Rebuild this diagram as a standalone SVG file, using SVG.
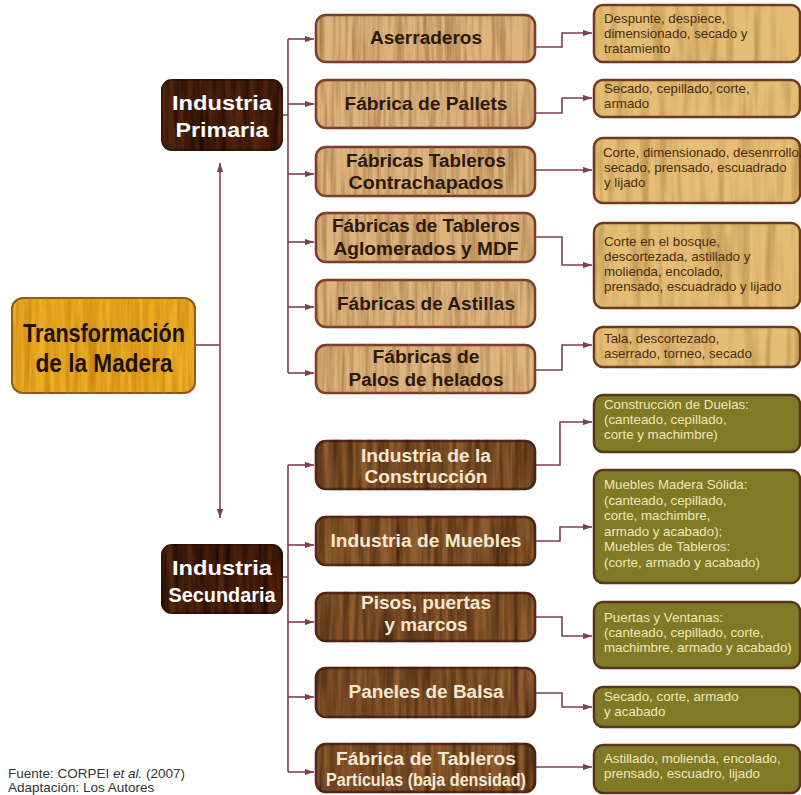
<svg xmlns="http://www.w3.org/2000/svg" width="801" height="795" viewBox="0 0 801 795">
<style>
text{font-family:"Liberation Sans",Arial,Helvetica,sans-serif}
.mid{font-size:17.5px;font-weight:bold;fill:#2a190c;text-anchor:middle}
.mid2{font-size:17.5px;font-weight:bold;fill:#f3e9d2;text-anchor:middle}
.ind{font-size:20.5px;font-weight:bold;fill:#ffffff;text-anchor:middle}
.main{font-size:26px;font-weight:bold;fill:#1e1206;text-anchor:middle}
.d1{font-size:13.3px;fill:#4a2c12}
.d2{font-size:13.3px;fill:#f0e6bc}
.tan{fill:#deb47e;stroke:#7a3a2c;stroke-width:2.5}
.brown{fill:#8e5c2e;stroke:#5a2a1c;stroke-width:2.5}
.dark{fill:#55260f;stroke:#3a1a0a;stroke-width:2}
.gold{fill:#ecb026;stroke:#8a5420;stroke-width:2}
.rtan{fill:#e6bd74;stroke:#6e3a22;stroke-width:2.5}
.olive{fill:#807a26;stroke:#5a341c;stroke-width:2.5}
.c{fill:none;stroke:#7e4050;stroke-width:1.6}
.a{marker-end:url(#ah)}
.src{font-size:13.5px;fill:#333333}
</style>
<defs>
<marker id="ah" viewBox="0 0 10 7" refX="10" refY="3.5" markerWidth="9" markerHeight="6.3" markerUnits="userSpaceOnUse" orient="auto">
<path d="M0,0 L10,3.5 L0,7 z" fill="#7e4050"/>
</marker>
<filter id="wTan" x="-0.05" y="-0.1" width="1.1" height="1.2" color-interpolation-filters="sRGB">
<feTurbulence type="fractalNoise" baseFrequency="0.22 0.01" numOctaves="3" seed="2" result="t"/>
<feColorMatrix in="t" type="luminanceToAlpha" result="l"/>
<feComponentTransfer in="l" result="m"><feFuncA type="linear" slope="1.5" intercept="-0.6"/></feComponentTransfer>
<feFlood flood-color="#8a5a2a"/>
<feComposite operator="in" in2="m" result="c"/>
<feComposite in="c" in2="SourceAlpha" operator="in" result="d"/>
<feMerge><feMergeNode in="SourceGraphic"/><feMergeNode in="d"/></feMerge>
</filter>
<filter id="wBrown" x="-0.05" y="-0.1" width="1.1" height="1.2" color-interpolation-filters="sRGB">
<feTurbulence type="fractalNoise" baseFrequency="0.16 0.01" numOctaves="3" seed="7" result="t"/>
<feColorMatrix in="t" type="luminanceToAlpha" result="l"/>
<feComponentTransfer in="l" result="m"><feFuncA type="linear" slope="2" intercept="-0.7"/></feComponentTransfer>
<feFlood flood-color="#3a1c08"/>
<feComposite operator="in" in2="m" result="c"/>
<feComposite in="c" in2="SourceAlpha" operator="in" result="d"/>
<feMerge><feMergeNode in="SourceGraphic"/><feMergeNode in="d"/></feMerge>
</filter>
<filter id="wDark" x="-0.05" y="-0.1" width="1.1" height="1.2" color-interpolation-filters="sRGB">
<feTurbulence type="fractalNoise" baseFrequency="0.16 0.012" numOctaves="3" seed="4" result="t"/>
<feColorMatrix in="t" type="luminanceToAlpha" result="l"/>
<feComponentTransfer in="l" result="m"><feFuncA type="linear" slope="2" intercept="-0.65"/></feComponentTransfer>
<feFlood flood-color="#160600"/>
<feComposite operator="in" in2="m" result="c"/>
<feComposite in="c" in2="SourceAlpha" operator="in" result="d"/>
<feMerge><feMergeNode in="SourceGraphic"/><feMergeNode in="d"/></feMerge>
</filter>
<filter id="wGold" x="-0.05" y="-0.1" width="1.1" height="1.2" color-interpolation-filters="sRGB">
<feTurbulence type="fractalNoise" baseFrequency="0.18 0.01" numOctaves="3" seed="9" result="t"/>
<feColorMatrix in="t" type="luminanceToAlpha" result="l"/>
<feComponentTransfer in="l" result="m"><feFuncA type="linear" slope="1.5" intercept="-0.55"/></feComponentTransfer>
<feFlood flood-color="#b86a00"/>
<feComposite operator="in" in2="m" result="c"/>
<feComposite in="c" in2="SourceAlpha" operator="in" result="d"/>
<feMerge><feMergeNode in="SourceGraphic"/><feMergeNode in="d"/></feMerge>
</filter>
<filter id="wLite" x="-0.05" y="-0.1" width="1.1" height="1.2" color-interpolation-filters="sRGB">
<feTurbulence type="fractalNoise" baseFrequency="0.12 0.01" numOctaves="2" seed="11" result="t"/>
<feColorMatrix in="t" type="luminanceToAlpha" result="l"/>
<feComponentTransfer in="l" result="m"><feFuncA type="linear" slope="1.0" intercept="-0.45"/></feComponentTransfer>
<feFlood flood-color="#6a4a10"/>
<feComposite operator="in" in2="m" result="c"/>
<feComposite in="c" in2="SourceAlpha" operator="in" result="d"/>
<feMerge><feMergeNode in="SourceGraphic"/><feMergeNode in="d"/></feMerge>
</filter>
</defs>

<g id="connectors">
<path class="c" d="M195 345 H220"/>
<path class="c a" d="M220 345 V163"/>
<path class="c a" d="M220 345 V518"/>
<path class="c" d="M282 115 H288 M288 39 V373"/>
<path class="c a" d="M288 39 H314"/>
<path class="c a" d="M288 104 H314"/>
<path class="c a" d="M288 174 H314"/>
<path class="c a" d="M288 242 H314"/>
<path class="c a" d="M288 307 H314"/>
<path class="c a" d="M288 373 H314"/>
<path class="c" d="M282 577 H288 M288 465 V772"/>
<path class="c a" d="M288 465 H314"/>
<path class="c a" d="M288 545 H314"/>
<path class="c a" d="M288 622 H314"/>
<path class="c a" d="M288 697 H314"/>
<path class="c a" d="M288 772 H314"/>
<path class="c a" d="M536 47 H562 V33 H592"/>
<path class="c a" d="M536 113 H562 V98 H592"/>
<path class="c a" d="M536 170 H592"/>
<path class="c a" d="M536 237 H562 V265 H592"/>
<path class="c a" d="M536 370 H562 V345 H592"/>
<path class="c a" d="M536 465 H560 V422 H592"/>
<path class="c a" d="M536 541 H560 V527 H592"/>
<path class="c a" d="M536 617 H562 V636 H592"/>
<path class="c a" d="M536 693 H562 V707 H592"/>
<path class="c a" d="M536 767 H592"/>
</g>

<g id="n-transformacion">
<rect class="gold" filter="url(#wGold)" x="12" y="298" width="183" height="95" rx="11"/>
<text class="main" x="104" y="342" textLength="162" lengthAdjust="spacingAndGlyphs">Transformación</text>
<text class="main" x="104" y="372" textLength="137" lengthAdjust="spacingAndGlyphs">de la Madera</text>
</g>

<g id="n-primaria">
<rect class="dark" filter="url(#wDark)" x="162" y="80" width="120" height="70" rx="10"/>
<text class="ind" x="222" y="110" textLength="100" lengthAdjust="spacingAndGlyphs">Industria</text>
<text class="ind" x="222" y="137" textLength="93" lengthAdjust="spacingAndGlyphs">Primaria</text>
</g>

<g id="n-secundaria">
<rect class="dark" filter="url(#wDark)" x="162" y="545" width="120" height="68" rx="10"/>
<text class="ind" x="222" y="575" textLength="100" lengthAdjust="spacingAndGlyphs">Industria</text>
<text class="ind" x="222" y="602" textLength="107" lengthAdjust="spacingAndGlyphs">Secundaria</text>
</g>

<g id="n-aserraderos">
<rect class="tan" filter="url(#wTan)" x="316" y="15" width="219" height="47" rx="10"/>
<text class="mid" x="426" y="44" textLength="112" lengthAdjust="spacingAndGlyphs">Aserraderos</text>
</g>
<g id="n-pallets">
<rect class="tan" filter="url(#wTan)" x="316" y="80" width="219" height="48" rx="10"/>
<text class="mid" x="426" y="110" textLength="163" lengthAdjust="spacingAndGlyphs">Fábrica de Pallets</text>
</g>
<g id="n-contrachapados">
<rect class="tan" filter="url(#wTan)" x="316" y="147" width="219" height="49" rx="10"/>
<text class="mid" x="426" y="167" textLength="160" lengthAdjust="spacingAndGlyphs">Fábricas Tableros</text>
<text class="mid" x="426" y="189" textLength="155" lengthAdjust="spacingAndGlyphs">Contrachapados</text>
</g>
<g id="n-aglomerados">
<rect class="tan" filter="url(#wTan)" x="316" y="213" width="219" height="49" rx="10"/>
<text class="mid" x="426" y="232" textLength="188" lengthAdjust="spacingAndGlyphs">Fábricas de Tableros</text>
<text class="mid" x="426" y="255" textLength="185" lengthAdjust="spacingAndGlyphs">Aglomerados y MDF</text>
</g>
<g id="n-astillas">
<rect class="tan" filter="url(#wTan)" x="316" y="280" width="219" height="47" rx="10"/>
<text class="mid" x="426" y="310" textLength="178" lengthAdjust="spacingAndGlyphs">Fábricas de Astillas</text>
</g>
<g id="n-palos">
<rect class="tan" filter="url(#wTan)" x="316" y="345" width="219" height="48" rx="10"/>
<text class="mid" x="426" y="363" textLength="107" lengthAdjust="spacingAndGlyphs">Fábricas de</text>
<text class="mid" x="426" y="386" textLength="155" lengthAdjust="spacingAndGlyphs">Palos de helados</text>
</g>

<g id="n-construccion">
<rect class="brown" filter="url(#wBrown)" x="316" y="441" width="219" height="48" rx="10"/>
<text class="mid2" x="426" y="462" textLength="130" lengthAdjust="spacingAndGlyphs">Industria de la</text>
<text class="mid2" x="426" y="483" textLength="123" lengthAdjust="spacingAndGlyphs">Construcción</text>
</g>
<g id="n-muebles">
<rect class="brown" filter="url(#wBrown)" x="316" y="517" width="219" height="48" rx="10"/>
<text class="mid2" x="426" y="547" textLength="191" lengthAdjust="spacingAndGlyphs">Industria de Muebles</text>
</g>
<g id="n-pisos">
<rect class="brown" filter="url(#wBrown)" x="316" y="593" width="219" height="48" rx="10"/>
<text class="mid2" x="426" y="609" textLength="130" lengthAdjust="spacingAndGlyphs">Pisos, puertas</text>
<text class="mid2" x="426" y="631" textLength="83" lengthAdjust="spacingAndGlyphs">y marcos</text>
</g>
<g id="n-balsa">
<rect class="brown" filter="url(#wBrown)" x="316" y="668" width="219" height="49" rx="10"/>
<text class="mid2" x="426" y="698" textLength="155" lengthAdjust="spacingAndGlyphs">Paneles de Balsa</text>
</g>
<g id="n-particulas">
<rect class="brown" filter="url(#wBrown)" x="316" y="744" width="219" height="48" rx="10"/>
<text class="mid2" x="426" y="765" textLength="180" lengthAdjust="spacingAndGlyphs">Fábrica de Tableros</text>
<text class="mid2" x="426" y="786" textLength="200" lengthAdjust="spacingAndGlyphs">Partículas (baja densidad)</text>
</g>

<g id="d-aserraderos">
<rect class="rtan" filter="url(#wLite)" x="594" y="5" width="206" height="57" rx="9"/>
<text class="d1" x="604" y="23">Despunte, despiece,</text>
<text class="d1" x="604" y="38">dimensionado, secado y</text>
<text class="d1" x="604" y="53">tratamiento</text>
</g>
<g id="d-pallets">
<rect class="rtan" filter="url(#wLite)" x="594" y="80" width="206" height="37" rx="9"/>
<text class="d1" x="604" y="93">Secado, cepillado, corte,</text>
<text class="d1" x="604" y="108">armado</text>
</g>
<g id="d-contrachapados">
<rect class="rtan" filter="url(#wLite)" x="594" y="138" width="206" height="65" rx="9"/>
<text class="d1" x="603" y="157">Corte, dimensionado, desenrrollo,</text>
<text class="d1" x="604" y="172">secado, prensado, escuadrado</text>
<text class="d1" x="604" y="187">y lijado</text>
</g>
<g id="d-aglomerados">
<rect class="rtan" filter="url(#wLite)" x="594" y="223" width="206" height="85" rx="9"/>
<text class="d1" x="604" y="246">Corte en el bosque,</text>
<text class="d1" x="604" y="261">descortezada, astillado y</text>
<text class="d1" x="604" y="276">molienda, encolado,</text>
<text class="d1" x="604" y="291">prensado, escuadrado y lijado</text>
</g>
<g id="d-palos">
<rect class="rtan" filter="url(#wLite)" x="594" y="327" width="206" height="40" rx="9"/>
<text class="d1" x="604" y="343">Tala, descortezado,</text>
<text class="d1" x="604" y="358">aserrado, torneo, secado</text>
</g>

<g id="d-construccion">
<rect class="olive" x="594" y="395" width="206" height="57" rx="9"/>
<text class="d2" x="604" y="409">Construcción de Duelas:</text>
<text class="d2" x="604" y="424">(canteado, cepillado,</text>
<text class="d2" x="604" y="439">corte y machimbre)</text>
</g>
<g id="d-muebles">
<rect class="olive" x="594" y="470" width="206" height="113" rx="9"/>
<text class="d2" x="604" y="489">Muebles Madera Sólida:</text>
<text class="d2" x="604" y="504.5">(canteado, cepillado,</text>
<text class="d2" x="604" y="520">corte, machimbre,</text>
<text class="d2" x="604" y="535.5">armado y acabado);</text>
<text class="d2" x="604" y="551">Muebles de Tableros:</text>
<text class="d2" x="604" y="566.5">(corte, armado y acabado)</text>
</g>
<g id="d-pisos">
<rect class="olive" x="594" y="602" width="206" height="66" rx="9"/>
<text class="d2" x="604" y="622">Puertas y Ventanas:</text>
<text class="d2" x="604" y="637">(canteado, cepillado, corte,</text>
<text class="d2" x="604" y="652">machimbre, armado y acabado)</text>
</g>
<g id="d-balsa">
<rect class="olive" x="594" y="687" width="206" height="40" rx="9"/>
<text class="d2" x="604" y="701">Secado, corte, armado</text>
<text class="d2" x="604" y="716">y acabado</text>
</g>
<g id="d-particulas">
<rect class="olive" x="594" y="745" width="206" height="48" rx="9"/>
<text class="d2" x="604" y="763">Astillado, molienda, encolado,</text>
<text class="d2" x="604" y="778">prensado, escuadro, lijado</text>
</g>

<g id="source">
<text class="src" x="8" y="778">Fuente: CORPEI <tspan font-style="italic">et al.</tspan> (2007)</text>
<text class="src" x="8" y="792">Adaptación: Los Autores</text>
</g>
</svg>
